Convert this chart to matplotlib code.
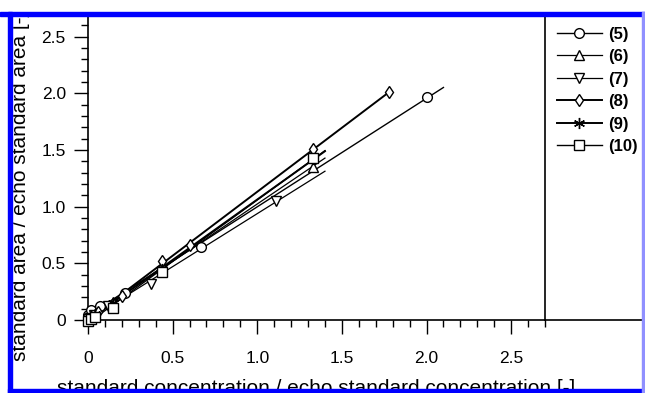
import numpy as np
import matplotlib.pyplot as plt
from matplotlib.patches import Rectangle
from matplotlib.lines import Line2D
from matplotlib.ticker import MultipleLocator, FuncFormatter

plt.rcParams['font.family'] = ['Liberation Sans', 'DejaVu Sans']

# series: standard concentration ratio (x) vs standard area ratio (y)
labels = ['(5)', '(6)', '(7)', '(8)', '(9)', '(10)']
markers = ['o', '^', 'v', 'd', (6, 2, 0), 's']

x5 = [0.0, 0.02, 0.07, 0.22, 0.67, 2.00]
y5 = [0.04, 0.09, 0.12, 0.24, 0.64, 1.97]
x6 = [0.0, 0.015, 0.044, 0.15, 0.44, 1.33]
y6 = [0.01, 0.02, 0.05, 0.16, 0.48, 1.35]
x7 = [0.0, 0.012, 0.037, 0.12, 0.37, 1.11]
y7 = [0.01, 0.02, 0.04, 0.12, 0.32, 1.05]
x8 = [0.0, 0.02, 0.06, 0.20, 0.44, 0.60, 1.33, 1.78]
y8 = [0.01, 0.03, 0.07, 0.21, 0.52, 0.66, 1.51, 2.01]
x9 = [0.0, 0.015, 0.044, 0.15, 0.44, 1.33]
y9 = [0.0, 0.02, 0.05, 0.15, 0.45, 1.42]
x10 = [0.0, 0.015, 0.044, 0.15, 0.44, 1.33]
y10 = [-0.01, 0.01, 0.03, 0.11, 0.42, 1.43]

# x where each fitted line stops
fit_end = [2.10, 1.40, 1.40, 1.78, 1.40, 1.40]
line_w = [1.0, 0.9, 0.9, 1.4, 1.4, 1.0]
marker_size = [7, 7, 7, 6, 8, 7]

xs = [x5, x6, x7, x8, x9, x10]
ys = [y5, y6, y7, y8, y9, y10]

fig = plt.figure(figsize=(6.45, 3.93), dpi=100)
ax = fig.add_axes([88/645, 1 - 320/393, (545-88)/645, (320-15)/393])

for i in range(6):
    x = np.array(xs[i])
    y = np.array(ys[i])
    k, b = np.polyfit(x, y, 1)
    xl = np.array([0, fit_end[i]])
    ax.plot(xl, k*xl + b, color='black', lw=line_w[i], clip_on=False)
    ax.plot(x, y, linestyle='none', marker=markers[i], ms=marker_size[i], mfc='white',
            mec='black', mew=1.0, clip_on=False, zorder=3)

ax.set_xlim(0, 2.70)
ax.set_ylim(0, 2.69)
ax.xaxis.set_major_locator(MultipleLocator(0.5))
ax.xaxis.set_minor_locator(MultipleLocator(0.1))
ax.yaxis.set_major_locator(MultipleLocator(0.5))
ax.yaxis.set_minor_locator(MultipleLocator(0.1))
fmt = FuncFormatter(lambda v, p: '0' if abs(v) < 1e-9 else '%.1f' % v)
ax.xaxis.set_major_formatter(fmt)
ax.yaxis.set_major_formatter(fmt)
ax.tick_params(which='major', direction='out', length=10, width=1, labelsize=12.5, color='black')
ax.tick_params(which='minor', direction='out', length=5, width=1, color='black')
ax.tick_params(axis='x', which='major', pad=12)
ax.tick_params(axis='y', which='major', pad=6)
ax.spines['top'].set_visible(False)
for s in ['left', 'bottom', 'right']:
    ax.spines[s].set_linewidth(1.2)

# legend
handles = [Line2D([], [], color='black', lw=line_w[i], marker=markers[i], ms=marker_size[i],
                  mfc='white', mec='black') for i in range(6)]
leg = ax.legend(handles, labels, loc='upper left', bbox_to_anchor=(1.0, 1.0),
                frameon=False, handlelength=2.7, labelspacing=0.45,
                prop={'weight': 'bold', 'size': 12}, borderaxespad=0.3,
                handletextpad=0.4)

# horizontal line closing the legend area
fig.add_artist(Line2D([545/645, 1], [1 - 320/393, 1 - 320/393], color='black', lw=1.2))

fig.text(316/645, 1 - 388/393, 'standard concentration / echo standard concentration [-]',
         ha='center', va='center', fontsize=15)
fig.text(21/645, 1 - 186/393, 'standard area / echo standard area [-]',
         ha='center', va='center', rotation=90, fontsize=15)

# blue frame
blue = '#0000ff'
fig.add_artist(Rectangle((0, 0), 12/645, 1, transform=fig.transFigure, color='white', zorder=9))
fig.add_artist(Rectangle((8/645, 0), 4/645, 1 - 12/393, transform=fig.transFigure, color=blue, zorder=10))
fig.add_artist(Rectangle((0, 1 - 12/393), 1, 12/393, transform=fig.transFigure, color='white', zorder=9))
fig.add_artist(Rectangle((0, 1 - 16/393), 1, 4/393, transform=fig.transFigure, color=blue, zorder=10))
fig.add_artist(Rectangle((8/645, 0), 1, 4/393, transform=fig.transFigure, color=blue, zorder=10))
fig.add_artist(Rectangle((642/645, 0), 2/645, 1 - 12/393, transform=fig.transFigure, color='#9090ff', zorder=10))

fig.savefig('out.png', dpi=100)
